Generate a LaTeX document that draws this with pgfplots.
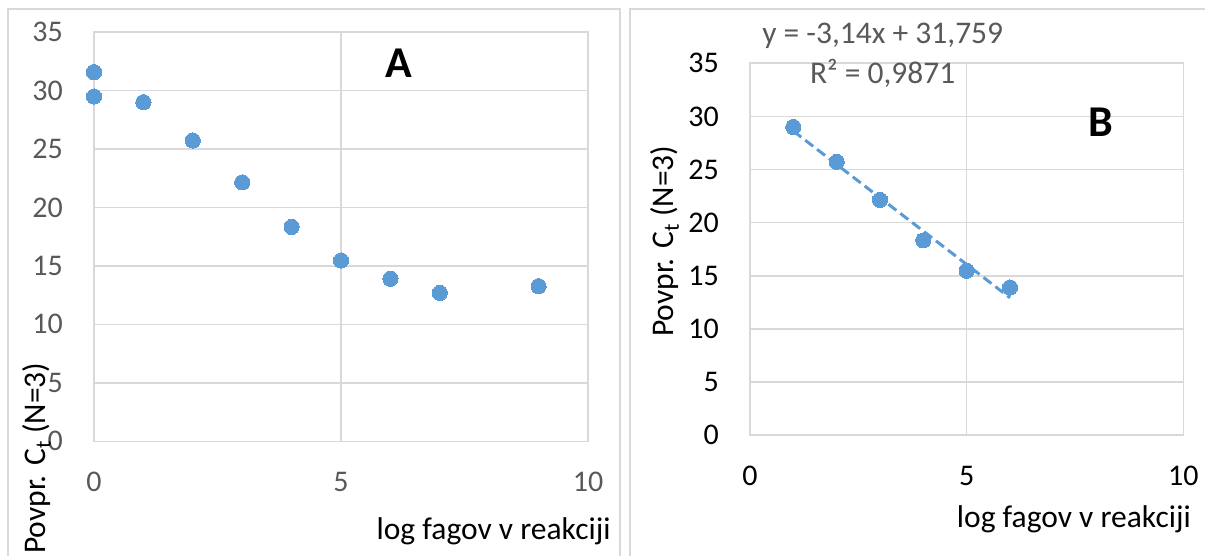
\documentclass[border=0pt]{standalone}
\usepackage{fontspec}
\setmainfont{Carlito}
\usepackage{pgfplots}
\pgfplotsset{compat=1.18}

\definecolor{ptblue}{HTML}{5B9BD5}
\definecolor{gridgray}{HTML}{D9D9D9}
\definecolor{txtgray}{HTML}{595959}

% common look of both scatter panels
\pgfplotsset{
  excelpanel/.style={
    scale only axis, anchor=south west, clip=false,
    xmin=0, xmax=10, ymin=0, ymax=35,
    xtick={0,5,10}, ytick={0,5,...,35},
    grid=major,
    major grid style={draw=gridgray, line width=1.6pt},
    axis line style={draw=gridgray, line width=1.6pt},
    major tick length=0pt,
    /pgf/number format/assume math mode=true,
    tick label style={font=\fontsize{30}{36}\selectfont},
    yticklabel style={anchor=east, inner sep=0pt, xshift=-31pt},
    xticklabel style={anchor=north, inner sep=0pt, yshift=-31pt},
    every axis x label/.style={anchor=base east, inner sep=0pt,
      font=\fontsize{31.5}{38}\selectfont},
    every axis y label/.style={rotate=90, anchor=center, inner sep=0pt,
      font=\fontsize{31.5}{38}\selectfont},
  },
  dots/.style={only marks, mark=*, mark size=7.6pt,
    mark options={fill=ptblue, draw=ptblue, line width=0pt}},
}

\begin{document}
\begin{tikzpicture}
\useasboundingbox (0pt,0pt) rectangle (1205pt,555pt);
\clip (0pt,0pt) rectangle (1205pt,555pt);

% chart area frames
\draw[gridgray, line width=1.8pt] (8.3pt,-20pt) -- (8.3pt,545.7pt) -- (620pt,545.7pt) -- (620pt,-20pt);
\draw[gridgray, line width=1.8pt] (630.3pt,-20pt) -- (630.3pt,545.7pt) -- (1230pt,545.7pt);

% ---- panel A: all dilutions ----
\begin{axis}[excelpanel,
  at={(94pt,113.7pt)}, width=494pt, height=409.3pt,
  tick label style={text=txtgray},
  xlabel={log fagov v reakciji},
  ylabel={Povpr. C\textsubscript{t} (N=3)},
  xlabel style={at={(axis description cs:1.046,-0.2394)}},
  ylabel style={at={(axis description cs:-0.1164,-0.0415)}},
]
\addplot[dots] coordinates {
  (0,31.57) (0,29.48) (1,29.0) (2,25.72) (3,22.14)
  (4,18.33) (5,15.46) (6,13.89) (7,12.69) (9,13.27)
};
\node[font=\fontsize{44}{50}\selectfont\bfseries, anchor=center]
  at (axis description cs:0.6174,0.9228) {A};
\end{axis}

% ---- panel B: linear range with trend line ----
\begin{axis}[excelpanel,
  at={(750pt,120pt)}, width=433.3pt, height=371.7pt,
  tick label style={text=black},
  xlabel={log fagov v reakciji},
  ylabel={Povpr. C\textsubscript{t} (N=3)},
  xlabel style={at={(axis description cs:1.0178,-0.2483)}},
  ylabel style={at={(axis description cs:-0.1966,0.5214)}},
]
\addplot[dots] coordinates {
  (1,29.0) (2,25.72) (3,22.14) (4,18.33) (5,15.46) (6,13.89)
};
% linear trend y = -3.14x + 31.759 over the fitted range
\addplot[ptblue, line width=3pt, dash pattern=on 10pt off 5pt] coordinates {
  (1,28.619) (6,12.919)
};
\node[font=\fontsize{31.5}{38}\selectfont, text=txtgray, anchor=base, inner sep=0pt]
  at (axis description cs:0.3062,1.0538) {y = -3,14x + 31,759};
\node[font=\fontsize{31.5}{38}\selectfont, text=txtgray, anchor=base, inner sep=0pt]
  at (axis description cs:0.3062,0.9462) {R² = 0,9871};
\node[font=\fontsize{44}{50}\selectfont\bfseries, anchor=center]
  at (axis description cs:0.81,0.842) {B};
\end{axis}
\end{tikzpicture}
\end{document}
